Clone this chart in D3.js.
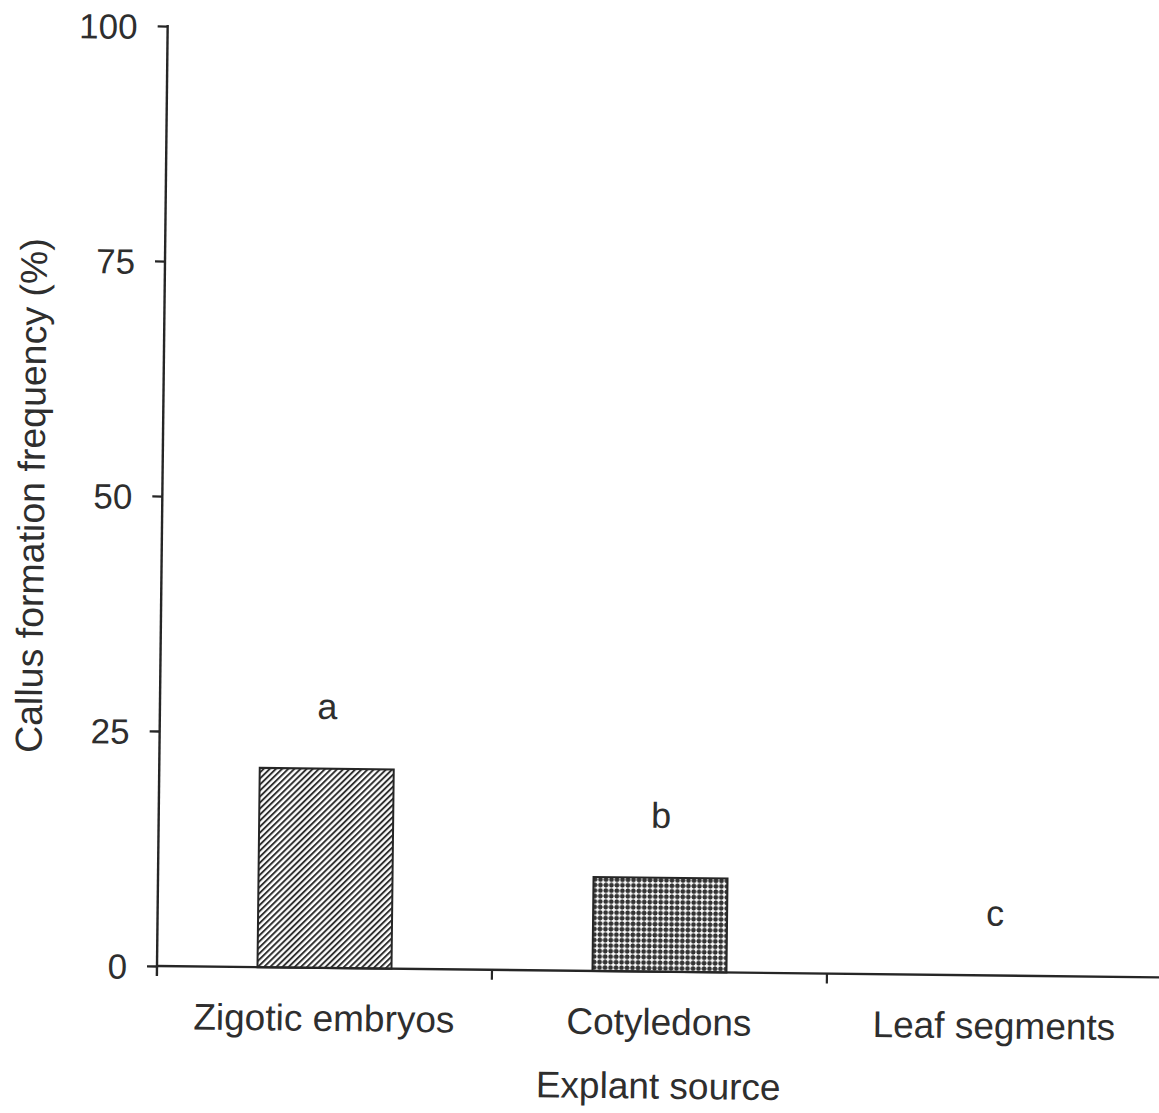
<!DOCTYPE html>
<html>
<head>
<meta charset="utf-8">
<script src="https://cdn.jsdelivr.net/npm/d3@7"></script>
<style>
  html, body { margin: 0; padding: 0; background: #fff; }
  svg { display: block; }
  text { font-family: "Liberation Sans", Arial, sans-serif; fill: #2e2e2e; }
</style>
</head>
<body>
<svg id="chart" width="1159" height="1113"></svg>
<script>
// Callus formation frequency by explant source
const categories = ["Zigotic embryos", "Cotyledons", "Leaf segments"];
const values = [21.2, 10, 0];
const letters = ["a", "b", "c"];
const yTicks = [0, 25, 50, 75, 100];
const patterns = ["hatch", "cross", "none"];

const W = 1159, H = 1113;
const x0 = 157, x1 = 1162, yTop = 26, yBase = 966;
const ink = "#262626";

const svg = d3.select("#chart");
const defs = svg.append("defs");

// diagonal hatch "/" fill
const hatch = defs.append("pattern")
  .attr("id", "hatch").attr("patternUnits", "userSpaceOnUse")
  .attr("width", 4.3).attr("height", 8)
  .attr("patternTransform", "rotate(45)");
hatch.append("rect").attr("width", 4.3).attr("height", 8).attr("fill", "#fff");
hatch.append("line").attr("x1", 1).attr("x2", 1).attr("y1", 0).attr("y2", 8)
  .attr("stroke", "#2a2a2a").attr("stroke-width", 1.9);

// dense fill with small white crosses
const cross = defs.append("pattern")
  .attr("id", "cross").attr("patternUnits", "userSpaceOnUse")
  .attr("width", 5.5).attr("height", 5.5);
cross.append("rect").attr("width", 5.5).attr("height", 5.5).attr("fill", "#333");
cross.append("rect").attr("x", 1.95).attr("y", 0.45).attr("width", 1.6).attr("height", 4.6).attr("fill", "#fff");
cross.append("rect").attr("x", 0.45).attr("y", 1.95).attr("width", 4.6).attr("height", 1.6).attr("fill", "#fff");

svg.append("rect").attr("width", W).attr("height", H).attr("fill", "#fff");

// whole figure sits slightly tilted
const g = svg.append("g").attr("transform", `rotate(0.65, ${x0}, ${yBase})`);

const x = d3.scaleBand().domain(categories).range([x0, x1]).padding(0);
const y = d3.scaleLinear().domain([0, 100]).range([yBase, yTop]);
const barW = x.bandwidth() * 0.4;

// y axis
const yAxis = d3.axisLeft(y).tickValues(yTicks).tickSize(10).tickPadding(20).tickSizeOuter(0);
const ya = g.append("g").attr("transform", `translate(${x0},0)`).call(yAxis);
ya.select(".domain").remove();
ya.selectAll(".tick line").attr("stroke", ink).attr("stroke-width", 2.3);
ya.selectAll(".tick text").attr("font-size", 35).attr("font-family", "Liberation Sans, Arial, sans-serif")
  .attr("fill", "#2e2e2e").attr("dy", "0.36em");
g.append("line").attr("x1", x0).attr("x2", x0).attr("y1", y(100) - 1).attr("y2", yBase + 10)
  .attr("stroke", ink).attr("stroke-width", 2.4);

// bars
g.selectAll("rect.bar").data(categories.filter((c, i) => values[i] > 0)).join("rect")
  .attr("class", "bar")
  .attr("x", c => x(c) + (x.bandwidth() - barW) / 2)
  .attr("width", barW)
  .attr("y", c => y(values[categories.indexOf(c)]))
  .attr("height", c => yBase - y(values[categories.indexOf(c)]))
  .attr("fill", c => `url(#${patterns[categories.indexOf(c)]})`)
  .attr("stroke", ink).attr("stroke-width", 2);

// x axis
g.append("line").attr("x1", x0).attr("x2", x1 + 20).attr("y1", yBase).attr("y2", yBase)
  .attr("stroke", ink).attr("stroke-width", 2.4);
g.selectAll("line.xtick").data(categories.slice(0, 2)).join("line")
  .attr("class", "xtick")
  .attr("x1", c => x(c) + x.bandwidth()).attr("x2", c => x(c) + x.bandwidth())
  .attr("y1", yBase).attr("y2", yBase + 10)
  .attr("stroke", ink).attr("stroke-width", 2.2);

g.selectAll("text.cat").data(categories).join("text")
  .attr("class", "cat")
  .attr("x", c => x(c) + x.bandwidth() / 2)
  .attr("y", yBase + 63)
  .attr("text-anchor", "middle").attr("font-size", 37)
  .text(c => c);

// significance letters
g.selectAll("text.sig").data(letters).join("text")
  .attr("class", "sig")
  .attr("x", (d, i) => x(categories[i]) + x.bandwidth() / 2)
  .attr("y", (d, i) => y(values[i] + 5.3))
  .attr("text-anchor", "middle").attr("font-size", 36)
  .text(d => d);

// axis titles
g.append("text")
  .attr("x", x(categories[1]) + x.bandwidth() / 2)
  .attr("y", yBase + 127)
  .attr("text-anchor", "middle").attr("font-size", 37)
  .text("Explant source");

g.append("text")
  .attr("transform", `translate(39, ${(y(0) + y(100)) / 2 + 1}) rotate(-90)`)
  .attr("text-anchor", "middle").attr("font-size", 37.5)
  .text("Callus formation frequency (%)");
</script>
</body>
</html>
